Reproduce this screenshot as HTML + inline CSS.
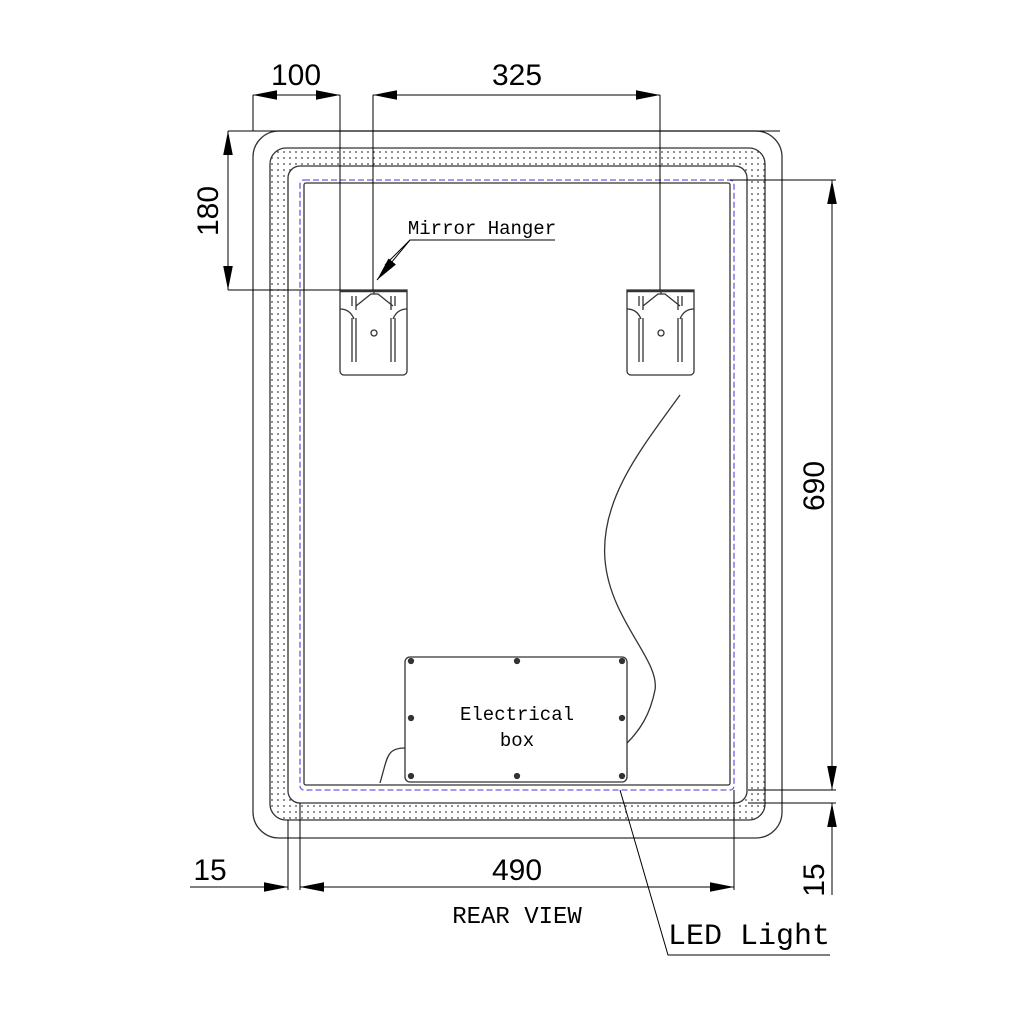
<!DOCTYPE html>
<html><head><style>html,body{margin:0;padding:0;background:#fff}svg{display:block}</style></head><body>
<svg width="1024" height="1024" viewBox="0 0 1024 1024" xmlns="http://www.w3.org/2000/svg">
<defs>
<pattern id="dots" width="6" height="6" patternUnits="userSpaceOnUse"><circle cx="2" cy="2" r="0.9" fill="#444"/></pattern>
<marker id="a" viewBox="0 0 10 4" refX="10" refY="2" markerWidth="24" markerHeight="10" markerUnits="userSpaceOnUse" orient="auto-start-reverse"><path d="M0,0L10,2L0,4z" fill="#000"/></marker>
</defs>
<g fill="none" stroke="#333" stroke-width="1.3">
<rect x="253" y="131" width="529" height="707" rx="26"/>
<path fill="url(#dots)" fill-rule="evenodd" stroke="none" d="M286,148H749A16,16 0 0 1 765,164V804A16,16 0 0 1 749,820H286A16,16 0 0 1 270,804V164A16,16 0 0 1 286,148Z M300,166H735A12,12 0 0 1 747,178V791A12,12 0 0 1 735,803H300A12,12 0 0 1 288,791V178A12,12 0 0 1 300,166Z"/>
<rect x="270" y="148" width="495" height="672" rx="16"/>
<rect x="288" y="166" width="459" height="637" rx="12"/>
<rect x="300" y="180" width="434" height="610" rx="4" stroke="#6a5fe0" stroke-dasharray="6,3"/>
<rect x="304" y="183" width="426" height="602" rx="2"/>
<g>
<path d="M340,290H407V371a4,4 0 0 1 -4,4H344a4,4 0 0 1 -4,-4Z"/>
<path d="M340,291H407" stroke-width="2.5"/>
<path d="M340,309q10,0 14,10M407,309q-10,0 -14,10M356,306L371,294H378L393,306M374,294v-4"/>
<path d="M352,296v10M356,296v14M391,296v14M395,296v10M352,318v44M356,318v44M391,318v44M395,318v44"/>
<circle cx="374" cy="333" r="3"/>
</g>
<g transform="translate(287,0)">
<path d="M340,290H407V371a4,4 0 0 1 -4,4H344a4,4 0 0 1 -4,-4Z"/>
<path d="M340,291H407" stroke-width="2.5"/>
<path d="M340,309q10,0 14,10M407,309q-10,0 -14,10M356,306L371,294H378L393,306M374,294v-4"/>
<path d="M352,296v10M356,296v14M391,296v14M395,296v10M352,318v44M356,318v44M391,318v44M395,318v44"/>
<circle cx="374" cy="333" r="3"/>
</g>
<rect x="405" y="657" width="222" height="125" rx="5"/>
<g fill="#333"><circle cx="411" cy="661" r="2.5"/><circle cx="517" cy="661" r="2.5"/><circle cx="622" cy="661" r="2.5"/><circle cx="411" cy="718" r="2.5"/><circle cx="622" cy="718" r="2.5"/><circle cx="411" cy="776" r="2.5"/><circle cx="517" cy="776" r="2.5"/><circle cx="622" cy="776" r="2.5"/></g>
<path d="M680,395C640,450 600,500 605,560C610,620 660,660 655,690C650,715 640,730 627,743"/>
<path d="M405,748C390,748 388,755 385,765L380,783"/>
</g>
<g stroke="#000" stroke-width="1" fill="none">
<path d="M253,95V131M340,95V290M373,95V290M660,95V290M228,131H780M228,290H340M730,180H836M748,790H836M748,803H836M288,820V890M300,803V890M734,790V890"/>
<line x1="300" y1="95" x2="253" y2="95" marker-end="url(#a)"/><line x1="253" y1="95" x2="340" y2="95" marker-end="url(#a)"/>
<line x1="373" y1="95" x2="660" y2="95" marker-start="url(#a)" marker-end="url(#a)"/>
<line x1="228" y1="131" x2="228" y2="290" marker-start="url(#a)" marker-end="url(#a)"/>
<line x1="832" y1="180" x2="832" y2="790" marker-start="url(#a)" marker-end="url(#a)"/>
<line x1="832" y1="895" x2="832" y2="803" marker-end="url(#a)"/>
<line x1="190" y1="887" x2="288" y2="887" marker-end="url(#a)"/>
<line x1="300" y1="887" x2="734" y2="887" marker-start="url(#a)" marker-end="url(#a)"/>
<path d="M620,790L668,955H830"/>
<path d="M555,240H410L385,265"/>
<line x1="410" y1="240" x2="377" y2="280" marker-end="url(#a)"/>
</g>
<g font-family="'Liberation Sans',sans-serif" font-size="30" fill="#000" text-anchor="middle">
<text x="296" y="85">100</text>
<text x="517" y="85">325</text>
<text x="210" y="880">15</text>
<text x="517" y="880">490</text>
<text transform="translate(218,211) rotate(-90)">180</text>
<text transform="translate(824,486) rotate(-90)">690</text>
<text transform="translate(824,880) rotate(-90)">15</text>
</g>
<g font-family="'Liberation Mono',monospace" fill="#000" text-anchor="middle">
<text x="482" y="234" font-size="19">Mirror Hanger</text>
<text x="517" y="720" font-size="19">Electrical</text>
<text x="517" y="746" font-size="19">box</text>
<text x="517" y="923" font-size="24">REAR VIEW</text>
<text x="749" y="944" font-size="30">LED Light</text>
</g>
</svg>
</body></html>
